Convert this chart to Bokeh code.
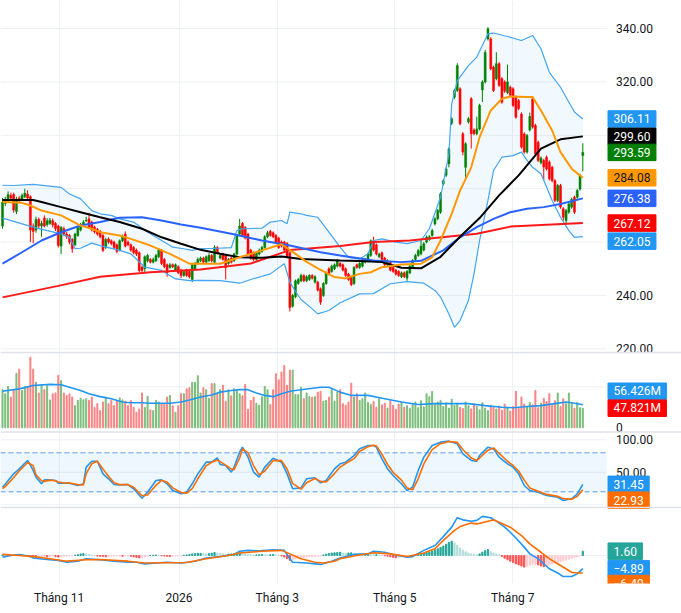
from bokeh.plotting import figure
from bokeh.models import Range1d, FixedTicker, ColumnDataSource
from bokeh.embed import file_html
from bokeh.resources import INLINE
from bokeh.core.properties import value

# ---------------- data (one entry per trading day) ----------------
opens = [266, 274.5, 275.5, 277.5, 277.8, 271.5, 276.5, 276, 277, 278,
         277, 266, 264.5, 268.5, 266, 269, 266.5, 267, 268, 267,
         266, 258.5, 265, 263, 262.5, 261, 259, 262.5, 264.5, 266.5,
         268, 268.7, 267.5, 265.6, 264.8, 264, 262.5, 258, 261.2, 260.5,
         260, 259, 257, 260.5, 263, 260, 259, 258, 257, 256,
         250.6, 250, 253, 253.5, 252.5, 253, 254.5, 257, 253.5, 251.5,
         250.5, 251.5, 249.5, 250.8, 249.5, 247.5, 249.5, 249, 246, 250,
         252, 253, 254, 252.5, 253, 255, 252.5, 258, 254, 255.5,
         255, 252, 254, 253, 255.5, 263, 267, 265.5, 263, 257,
         256, 253.5, 255.5, 256.5, 258, 262, 264, 263.5, 262.5, 261.5,
         260, 260, 259.5, 256, 236, 239.5, 244.5, 245.5, 247.5, 245.5,
         246, 247.5, 245, 245, 242.5, 240, 244.5, 250, 249, 250,
         251, 252, 251.5, 250, 248, 247, 244.5, 251.5, 250.5, 251,
         252.5, 253, 255, 260.5, 259, 254.5, 256, 254, 251.5, 252.5,
         250.5, 249.5, 249, 247, 248.5, 246.5, 248.5, 250.5, 253.5, 255,
         255.6, 257, 260, 261, 262.5, 266.8, 268.7, 271.2, 281.8, 285,
         289.3, 304.5, 314.3, 316.8, 317.4, 300.6, 288, 305, 313.7, 302,
         300.6, 302.4, 317, 320, 336.1, 336.1, 325.5, 321.2, 326.8, 321.2,
         320, 316, 318, 317.4, 314.3, 313, 308, 300.5, 293.7, 302,
         313.7, 303.7, 297.4, 289.7, 290.6, 291.8, 290, 288, 283, 275.6,
         281.2, 272.5, 268.1, 271.2, 273.1, 276.8, 276.8, 279.9, 292.4]
highs = [276.5, 277, 279, 278.5, 278.5, 277, 277.2, 278.2, 280, 279.4,
         277.5, 267, 269.5, 269.2, 268, 270, 269, 269, 268.8, 267.5,
         266.5, 266, 265.8, 263.8, 263, 261.5, 263.5, 266, 267.2, 268.2,
         269.5, 271, 268, 266.2, 265.3, 264.5, 263, 261.6, 261.8, 261,
         260.5, 259.5, 261, 262.8, 264, 260.6, 259.5, 258.5, 257.6, 256.5,
         251.2, 255, 255.6, 254, 254.2, 255.6, 257.6, 257.4, 254, 252,
         252.2, 252, 252, 251.3, 250, 249.6, 250, 249.5, 252, 252.6,
         254.2, 254.6, 254.5, 255, 255.8, 255.5, 258.8, 258.5, 255.6, 256,
         255.5, 254, 254.5, 256, 263, 268.7, 267.5, 266, 263.5, 257.5,
         256.5, 256.6, 257.6, 258.6, 262.6, 264.2, 264.6, 264, 263, 262,
         260.6, 260.5, 260, 256.5, 240.6, 246, 246.6, 248.2, 248, 247.6,
         248, 248, 247.6, 245.5, 243, 245, 249, 250.6, 251.6, 252,
         253.6, 252.5, 252, 250.5, 248.5, 247.5, 251, 252, 252.6, 253.6,
         254, 256, 261, 262, 259.5, 256, 256.5, 254.5, 253.6, 253,
         251, 250, 249.5, 249, 249, 249.5, 251.6, 253.6, 255.6, 257.4,
         261, 260, 262.5, 262.6, 265, 269.3, 272.4, 278.7, 283.6, 288,
         295.5, 306.8, 317.4, 327, 318, 301.2, 297.4, 306.8, 314.3, 302.6,
         307, 311.8, 320.6, 332, 340.5, 336.7, 326.1, 331.1, 327.4, 321.8,
         320.6, 326.5, 318.6, 318, 314.9, 313.6, 308.6, 301.1, 300.5, 308.5,
         314.5, 304.3, 298, 292.1, 291.2, 292.4, 290.6, 288.6, 283.6, 281.8,
         281.8, 273.1, 272.4, 274.9, 276.6, 277.4, 279.9, 285.6, 297]
lows = [265, 273.5, 275, 275.8, 271, 270.5, 274.8, 275.5, 276.5, 275.8,
        260, 259.5, 263.5, 265, 262, 265.5, 265.8, 266.5, 265.5, 264.2,
        258, 255.5, 262.2, 261.2, 259.2, 256, 258.5, 262, 264, 266,
        267.5, 265, 264, 263.2, 262.4, 261.4, 256.3, 257.4, 259.4, 258.8,
        257.4, 255.8, 256.5, 260, 258, 258.4, 256.4, 255.4, 254.8, 248.8,
        248.6, 248.8, 252.4, 252, 252, 252.5, 254, 251.4, 250.2, 247,
        250, 250.2, 249, 248, 246.5, 247, 247, 246.4, 245, 249.5,
        251.5, 252.5, 252, 252, 252.6, 252.4, 252, 255.4, 253.5, 253,
        246, 251.5, 252, 252.6, 255, 262.5, 262, 261, 255, 253.4,
        252.8, 253, 255, 256, 257.6, 261.5, 262, 261.5, 259.5, 257.5,
        258, 256.5, 254, 234, 235.5, 239, 244, 245, 245, 245,
        245.5, 246, 244.5, 241.5, 236.5, 239.5, 244, 247.5, 248.5, 249.5,
        250.5, 250.5, 249, 247, 245.5, 243.5, 244, 250, 250, 250.5,
        252, 252.5, 254.5, 256.5, 255, 254, 253, 251, 251, 249,
        248.5, 247.5, 247, 246.5, 246.5, 245.5, 248, 250, 253, 254.5,
        255, 256.5, 259.5, 260.5, 262, 266.2, 268.2, 270.6, 281.2, 284.4,
        288, 303.8, 313.7, 316.2, 303.7, 292.5, 283.7, 304.4, 295, 300,
        300, 301.8, 312.5, 319.4, 335.5, 324.3, 316.2, 320.6, 318.1, 311.8,
        315.9, 315.4, 314.4, 310.6, 306.2, 309.4, 295, 293.1, 293.1, 301.4,
        302.5, 292.5, 290, 289.1, 283, 286.8, 283.1, 282.4, 275, 275,
        272.5, 268, 266.5, 270.6, 272.5, 270.5, 276.2, 279.3, 286.5]
closes = [275, 276, 277.8, 276.5, 272, 276, 275.5, 277.5, 278.3, 276.5,
          264.5, 264, 268.5, 266, 267, 266, 268, 268.2, 266.5, 265,
          258.7, 265.5, 263, 262, 260, 257.5, 263, 265.5, 266.5, 267.5,
          268.3, 265.5, 264.5, 263.8, 263, 262, 256.9, 261, 260, 259.5,
          258, 256.5, 260.5, 262, 258.5, 259, 257, 256, 255.5, 249.4,
          249.4, 254.5, 255, 252.5, 253.5, 255, 257, 252, 250.8, 248.5,
          251.5, 250.8, 251.5, 248.5, 247.5, 249, 247.5, 247, 251.5, 252,
          253.5, 254, 252.5, 254.5, 255, 253, 258, 256, 255, 253.5,
          250.5, 253.5, 252.5, 255.5, 262.5, 266, 262.5, 261.5, 255.5, 254,
          253.5, 256, 257, 258, 262, 263.5, 262.5, 262, 260, 258,
          258.5, 257, 254.5, 235.5, 240, 245.5, 246, 247.5, 245.5, 247,
          247.5, 246.5, 247, 242, 237.5, 244.5, 248.5, 248, 251, 251.5,
          253, 251, 249.5, 247.5, 246, 244, 250.5, 250.5, 252, 253,
          253.5, 255.5, 260.5, 257, 255.5, 255.5, 253.5, 251.5, 253, 249.5,
          249, 248, 247.5, 248.5, 247, 249, 251, 253.1, 255, 256.8,
          258.5, 259.4, 261.9, 262, 264.3, 268.7, 271.8, 278.1, 283, 287.4,
          294.9, 306.2, 316.8, 326.1, 304.3, 293.7, 296.8, 306.2, 300.6, 300.6,
          302.4, 311.2, 320, 331, 339.9, 324.9, 316.8, 326.8, 318.7, 312.4,
          316.5, 320, 315, 311.2, 306.8, 310, 295.6, 293.7, 299.9, 307,
          303.1, 293.1, 290.6, 291.5, 288.1, 287.4, 283.7, 283, 275.6, 281.2,
          273.1, 269.3, 271.8, 274.3, 276, 271.2, 279.3, 285, 293.59]
volumes_m = [93, 83, 101, 75, 93, 133, 143, 91, 101, 101,
             172, 143, 111, 85, 106, 93, 103, 68, 83, 85,
             128, 115, 85, 79, 83, 75, 54, 67, 72, 68,
             71, 67, 75, 50, 59, 42, 63, 75, 59, 67,
             54, 65, 73, 68, 65, 54, 67, 50, 38, 46,
             85, 50, 77, 44, 42, 67, 63, 59, 59, 75,
             79, 54, 38, 54, 83, 83, 95, 98, 111, 111,
             127, 85, 98, 93, 72, 108, 108, 83, 93, 104,
             65, 93, 78, 95, 91, 83, 78, 106, 45, 67,
             75, 60, 55, 76, 101, 93, 57, 93, 132, 117,
             136, 152, 104, 141, 141, 81, 81,
             99, 71, 85, 76, 75, 76, 87, 89, 65, 67,
             75, 93, 65, 87, 93, 59, 55, 63, 109, 75,
             83, 67, 71, 85, 62, 57, 64, 50, 71, 56,
             60, 48, 66, 55, 45, 58, 62, 50, 54, 47,
             59, 63, 49, 66, 51, 83, 76, 89, 57, 63,
             67, 52, 61, 48, 70, 55, 60, 50, 47, 63,
             54, 46, 58, 52, 44, 61, 48, 42, 55, 50,
             46, 53, 43, 58, 49, 41, 52, 89, 48, 75,
             58, 51, 62, 56, 91, 49, 60, 72, 64, 83,
             55, 66, 85, 52, 71, 59, 85, 60, 48, 62, 49, 47.821]
macd_hist = [0.2, 0.1, 0, -0.1, 0, 0.1, 0.3, 0.3, 0.2, -0.1,
             -0.4, -0.6, -0.7, -0.6, -0.5, -0.4, -0.5, -0.4, -0.3, -0.4,
             -0.6, -0.5, -0.4, -0.3, -0.2, -0.1, 0.1, 0.3, 0.6, 0.7,
             0.6, 0.4, 0.2, 0, -0.2, -0.3, -0.4, -0.5, -0.4, -0.3,
             -0.3, -0.2, -0.2, -0.3, -0.3, -0.2, -0.3, -0.5, -0.7, -0.9,
             -0.8, -0.6, -0.3, 0, 0.1, 0.2, 0.1, -0.1, -0.2, -0.3,
             -0.4, -0.3, -0.2, -0.2, -0.1, 0.1, 0.2, 0.4, 0.6, 0.7,
             0.8, 0.8, 0.7, 0.6, 0.7, 0.8, 1.1, 0.9, 0.7, 0.6,
             0.4, 0.5, 0.6, 0.7, 0.9, 1.0, 0.8, 0.6, 0.4, 0.3,
             0.2, 0.2, 0.3, 0.4, 0.3, 0.2, 0.3, 0.4, 0.2, 0.1,
             -0.2, -0.6, -1.2, -1.8, -1.6, -1.3, -1.1, -0.9, -0.7, -0.6,
             -0.5, -0.5, -0.4, -0.3, -0.2, 0.2, 0.5, 0.7, 0.9, 1.0,
             1.1, 1.2, 0.9, 0.8, 0.9, 1.0, 0.8, 0.6, 0.5, 0.4,
             0.5, 0.6, 0.4, 0.3, 0.3, 0.2, 0.1, -0.1, -0.3, -0.5,
             -0.7, -0.8, -0.6, -0.5, -0.4, -0.3, -0.2, 0, 0.3, 0.5,
             0.6, 0.8, 1.0, 1.3, 1.7, 2.1, 2.5, 3.0, 3.5, 4.2,
             4.8, 5.3, 4.6, 3.8, 2.8, 2.0, 1.4, 0.9, 0.6, 0.4,
             0.3, 0.6, 1.2, 1.8, 2.2, 1.4, 0.9, 0.5, 0.2, -0.4,
             -1.0, -1.6, -2.1, -2.6, -3.1, -3.5, -3.9, -4.3, -4.0, -3.7,
             -3.4, -3.2, -3.5, -3.9, -4.2, -3.9, -3.6, -3.2, -2.9, -2.6,
             -2.3, -2.0, -1.7, -1.4, -1.1, -0.8, -0.5, -0.2, 1.6]

# indicator lines read at selected bars (bar index, value)
bb_mid_idx = [0, 7, 10, 14, 21, 28, 32, 35, 42, 46, 53, 60, 67, 71, 78, 85, 93, 100, 105, 109, 113, 119, 123, 128,
              132, 136, 143, 150, 154, 157, 161, 164, 168, 171, 175, 179, 182, 188, 190, 193, 197, 200, 204, 208]
bb_mid_val = [275, 274.7, 273.7, 271.8, 270, 266.2, 265, 263.7, 262.5, 261.2, 258.7, 255.6, 251.9, 251.9, 251.9,
              254.3, 256.9, 259.2, 255.6, 252.6, 250.2, 246.9, 246.4, 248.1, 248.7, 250.6, 251.6, 251.9, 254.3,
              260.6, 270.6, 279.3, 288, 299.3, 309.3, 313.7, 314.5, 314.3, 314.3, 309.3, 301.8, 293.7, 287.5, 284.08]
bb_up_idx = [0, 4, 11, 21, 24, 28, 32, 35, 39, 42, 47, 51, 54, 58, 61, 65, 68, 71, 75, 82, 84, 86, 93, 96, 100, 102,
             103, 107, 109, 113, 117, 121, 124, 128, 131, 133, 136, 141, 145, 150, 153, 157, 160, 161, 163, 167, 170,
             174, 176, 181, 186, 190, 193, 196, 200, 205, 208]
bb_up_val = [281.3, 281.2, 281.6, 280.5, 278, 276.2, 271.8, 270.6, 270, 268.7, 267.5, 264.4, 262.5, 260, 258.1,
             257.5, 256.9, 257.6, 257.6, 257.9, 264.3, 265, 265.2, 267.5, 268.1, 266.9, 271.2, 270.6, 270, 269.3,
             263.7, 258.1, 254.3, 253.7, 255.6, 260.6, 261.2, 260, 259.4, 260.6, 265, 276.8, 293, 311.8, 320.5,
             326.1, 329.3, 338, 338.3, 337, 335.5, 337.4, 332.4, 323.6, 318, 308.7, 306.11]
bb_lo_idx = [0, 11, 16, 21, 24, 26, 28, 32, 35, 42, 46, 51, 57, 62, 67, 71, 78, 85, 89, 96, 101, 103, 105, 107, 111,
             113, 117, 121, 128, 133, 139, 145, 151, 155, 157, 160, 162, 164, 167, 169, 171, 174, 176, 179, 183,
             186, 188, 190, 193, 195, 197, 200, 203, 205, 208]
bb_lo_val = [269, 265.6, 264.3, 263.1, 261.8, 257.5, 257.7, 259.6, 258.7, 256.9, 255.6, 250.6, 249.4, 246.2, 245.6,
             245.7, 245.6, 244.6, 246, 248.1, 251.9, 245, 241.5, 238.5, 235, 233.1, 234.4, 237.3, 240.6, 240.7,
             244.4, 245.2, 244.6, 241.9, 239.4, 233.1, 228.1, 230.6, 238.1, 248.1, 260.6, 275.6, 286.8, 291.8,
             292.4, 293.7, 290.6, 288, 285.6, 280.6, 275.6, 269.3, 264.3, 261.8, 262.05]
ma50_idx = [0, 11, 14, 21, 28, 35, 42, 50, 57, 64, 71, 78, 85, 93, 100, 107, 114, 121, 128, 136, 143, 150, 157, 164,
            171, 178, 185, 193, 200, 208]
ma50_val = [275.8, 275.8, 275, 273.1, 271.2, 269.3, 267.5, 265, 261.8, 259.4, 257.1, 255.6, 254.3, 254.1, 254.6,
            253.7, 253.4, 253.1, 252.9, 252.5, 250.4, 250.2, 254.5, 262, 269, 277.5, 285, 295, 298.5, 299.6]
ma100_idx = [0, 7, 14, 21, 28, 35, 42, 50, 57, 64, 71, 82, 93, 103, 114, 121, 133, 143, 150, 158, 164, 170, 176,
             182, 188, 194, 200, 208]
ma100_val = [251.9, 256.2, 260.6, 263.7, 266.2, 267.5, 269.1, 269.3, 268.1, 266.6, 265.4, 263.1, 260.6, 258.7,
             256.2, 255, 253.1, 252.5, 253, 256.9, 261.8, 265.6, 268.7, 271.2, 272.5, 273.1, 274.3, 276.38]
ma200_idx = [0, 20, 35, 53, 71, 89, 103, 121, 133, 146, 170, 182, 208]
ma200_val = [239.3, 243.6, 247, 248.7, 249.7, 252, 257, 258.5, 260, 260.6, 263.1, 265.8, 267.12]
vol_ma_idx = [0, 6, 11, 17, 21, 24, 28, 31, 35, 39, 43, 46, 50, 53, 57, 60, 64, 67, 71, 75, 78, 82, 85, 88, 91, 94,
              97, 100, 103, 107, 114, 117, 121, 125, 131, 137, 143, 149, 155, 161, 167, 173, 179, 183, 188, 193,
              198, 202, 205, 208]
vol_ma_val = [89, 95, 103, 106, 105, 99, 91, 83, 76, 71, 63, 61, 61, 60, 60, 60, 63, 68, 75, 80, 87, 91, 93, 93, 85,
              79, 76, 83, 89, 93, 99, 99, 87, 79, 79, 71, 63, 57, 59, 59, 59, 54, 50, 49, 52, 54, 59, 63, 60, 56.426]
stoch_idx = [0, 1, 4, 6, 9, 11, 12, 14, 15, 17, 19, 20, 22, 24, 27, 29, 30, 32, 34, 36, 38, 40, 42, 45, 47, 50, 52,
             55, 57, 59, 61, 64, 66, 68, 70, 73, 75, 77, 78, 80, 82, 83, 85, 86, 88, 90, 92, 94, 97, 100, 102, 104,
             107, 109, 112, 114, 116, 119, 121, 123, 126, 128, 131, 133, 134, 136, 138, 140, 143, 145, 147, 149,
             151, 154, 157, 160, 163, 165, 168, 170, 171, 174, 176, 178, 181, 183, 185, 187, 189, 192, 195, 199,
             201, 204, 206, 208]
stoch_k = [27, 32, 47.6, 55.3, 68.2, 52.8, 42.5, 32.3, 38.4, 38.4, 37.4, 33.3, 33.3, 33.3, 29.7, 32.3, 57.9, 67.1,
           67.1, 47.6, 40, 31.2, 30.7, 31.2, 24.6, 10.2, 19.4, 37.4, 38.4, 32.3, 22, 16.9, 19.4, 32.3, 47.6, 65.6,
           65.6, 72.3, 62, 60.5, 50.2, 57.9, 81, 88.7, 73.3, 50.2, 42.5, 57.9, 71.7, 65.6, 47.6, 24.6, 26, 40,
           41.5, 33.8, 37.4, 55.3, 63, 65.6, 75.8, 86.1, 91.2, 91.2, 88.7, 70.7, 55.3, 45, 32.3, 22, 27, 52.8,
           73.3, 91.2, 96.4, 97.9, 93.8, 78.4, 68.2, 67.1, 75.8, 88.7, 86, 73.3, 63, 57.9, 47.6, 29.7, 22, 19.4,
           14.3, 11.7, 6.6, 9.2, 16.9, 31.45]
stoch_d = [25, 28, 42, 52, 65, 60, 46, 37, 36, 38, 37, 35, 33.5, 33.5, 31, 30.5, 48, 63, 67, 55, 44, 34, 31, 31,
           27, 14, 15, 30, 37.5, 35, 26, 19, 18, 25, 40, 60, 65.5, 69, 66.5, 61, 55, 54, 72, 86, 80, 60, 46, 52,
           68, 68, 55, 33, 24, 34, 40.5, 36, 35, 48, 58, 63.5, 71, 82, 89.5, 91.5, 90.5, 78, 62, 50, 38, 26, 23,
           40, 63, 85, 94, 97.5, 96, 85, 72, 68, 72, 84, 87.5, 79, 67, 60.5, 52, 38, 26, 21, 16, 13, 9.5, 8.5, 13,
           22.93]
macd_idx = [0, 3, 6, 10, 11, 15, 20, 23, 27, 30, 35, 40, 45, 48, 51, 55, 59, 64, 69, 73, 78, 83, 85, 88, 92, 97,
            101, 103, 104, 109, 114, 118, 121, 126, 131, 133, 137, 140, 145, 147, 151, 155, 158, 161, 163, 165, 168,
            170, 172, 175, 177, 180, 182, 184, 187, 189, 192, 194, 196, 199, 201, 204, 206, 208]
macd_val = [-0.6, 0, 0.4, -0.4, -0.9, -1.4, -1.8, -2.5, -2.1, -1.2, -1.6, -2.1, -2.5, -2.5, -3.1, -2.8, -2.5, -2.8,
            -2.1, -0.9, -0.4, 0.4, 1.6, 1.9, 1.7, 2.1, 1.9, -1.2, -2.5, -2.8, -3.3, -2.1, -0.9, 0.4, 0.6, 1.6, 1.2,
            0.4, -0.6, -0.4, 1.9, 3.7, 7, 10.5, 14, 13.2, 12.7, 13, 14.5, 14, 12.7, 10.5, 8.6, 6.5, 3.1, 0.6, -1.2,
            -3.1, -4.9, -6.5, -7.8, -7.8, -6.8, -4.89]
signal_idx = [0, 6, 11, 17, 23, 30, 35, 45, 51, 59, 66, 73, 81, 85, 93, 100, 103, 107, 112, 115, 119, 121, 127,
              133, 139, 145, 151, 155, 158, 162, 164, 168, 170, 174, 176, 178, 182, 186, 189, 193, 196, 200, 204,
              206, 208]
signal_val = [0.4, 0, -0.4, -1.2, -2.1, -1.6, -1.5, -2.1, -2.8, -2.7, -2.6, -1.2, 0, 0.9, 1.6, 1.9, 0.6, -1.2,
              -2.5, -2.8, -2.1, -1.2, 0, 1, 0.6, -0.4, 0.9, 2.5, 5.6, 9.3, 10.7, 12, 11.7, 12.7, 13.2, 12.3, 10.5,
              7.4, 4.3, 1.2, -1.2, -3.7, -6.2, -6.5, -6.49]

month_ticks = [20.3, 63.3, 98.5, 140.6, 182.9]
month_labels = ["Tháng 11", "2026", "Tháng 3", "Tháng 5", "Tháng 7"]
price_grid = [220, 240, 260, 280, 300, 320, 340]
price_ticks = [340, 320, 240, 220]
stoch_ticks = [100, 50]
stoch_grid = [100, 50, 0]
stoch_levels = [20, 80]
vol_grid = [100]
macd_grid = [0]

n = len(closes)
for arr in (opens, highs, lows, volumes_m, macd_hist):
    assert len(arr) == n, len(arr)

# ---------------- layout ----------------
FW, FH = 681, 583          # frame size in px (frame covers the whole canvas width)
BAR_PX = 2.79              # px per trading day
PLOT_RIGHT = 606           # right edge of the drawing area (price scale to the right)
x_start = -2 / BAR_PX
x_end = x_start + FW / BAR_PX


def pane_range(v_a, y_a, v_b, y_b):
    ppu = (y_b - y_a) / (v_a - v_b)
    return Range1d(v_a - (FH - y_a) / ppu, v_a + y_a / ppu)


price_rng = pane_range(340, 28, 240, 295)
vol_rng = pane_range(100, 386.3, 0, 427.3)
stoch_rng = pane_range(80, 452.3, 20, 491.3)
macd_rng = pane_range(5, 541.5, 0, 555)

p = figure(frame_width=FW, frame_height=FH, x_range=Range1d(x_start, x_end), y_range=price_rng,
           toolbar_location=None, output_backend="svg", y_axis_location=None,
           min_border_left=0, min_border_right=0, min_border_top=0, min_border_bottom=22,
           outline_line_color=None, background_fill_color="white", border_fill_color="white")
p.title.visible = False
p.extra_y_ranges = {"vol": vol_rng, "stoch": stoch_rng, "macd": macd_rng, "py": Range1d(FH, 0)}
p.extra_x_ranges = {"px": Range1d(0, FW)}

for g in p.ygrid:
    g.visible = False
p.xgrid.ticker = FixedTicker(ticks=month_ticks)
p.xgrid.grid_line_color = "#edf0f4"

ax = p.xaxis[0]
ax.ticker = FixedTicker(ticks=month_ticks)
ax.major_label_overrides = dict(zip(month_ticks, month_labels))
ax.axis_line_color = None
ax.major_tick_line_color = None
ax.minor_tick_line_color = None
ax.major_tick_out = 0
ax.major_tick_in = 0
ax.minor_tick_out = 0
ax.major_label_standoff = 7
ax.major_label_text_font = "Roboto"
ax.major_label_text_font_size = "12px"
ax.major_label_text_color = "#131722"

GRID = "#edf0f4"
SEP = "#dfe2e8"
FONT = value("Roboto")

# horizontal grid lines of each pane
p.segment(x0=0, x1=PLOT_RIGHT, y0=price_grid, y1=price_grid, x_range_name="px", line_color=GRID, line_width=1)
p.segment(x0=0, x1=PLOT_RIGHT, y0=vol_grid, y1=vol_grid, x_range_name="px", y_range_name="vol",
          line_color=GRID, line_width=1)
p.segment(x0=0, x1=PLOT_RIGHT, y0=stoch_grid, y1=stoch_grid, x_range_name="px", y_range_name="stoch",
          line_color=GRID, line_width=1)
p.segment(x0=0, x1=PLOT_RIGHT, y0=macd_grid, y1=macd_grid, x_range_name="px", y_range_name="macd",
          line_color=GRID, line_width=1)

# ---------------- price pane ----------------
idx = list(range(n))
up = [c >= o for o, c in zip(opens, closes)]
src = ColumnDataSource(dict(
    i=idx, o=opens, h=highs, l=lows, c=closes,
    top=[max(o, c) for o, c in zip(opens, closes)],
    bottom=[min(o, c) for o, c in zip(opens, closes)],
    color=["#008000" if u else "#ff0000" for u in up],
    vol=volumes_m,
    vcolor=["#7cbd7c" if u else "#f98484" for u in up],
))

band_x = bb_up_idx + bb_lo_idx[::-1]
band_y = bb_up_val + bb_lo_val[::-1]
p.patch(band_x, band_y, fill_color="#2196f3", fill_alpha=0.06, line_color=None)

p.segment(x0="i", y0="l", x1="i", y1="h", color="color", line_width=1, source=src)
p.vbar(x="i", width=0.72, top="top", bottom="bottom", fill_color="color", line_color="color",
       line_width=0.5, source=src)

p.line(bb_up_idx, bb_up_val, line_color="#42a5f5", line_width=1.2)
p.line(bb_lo_idx, bb_lo_val, line_color="#42a5f5", line_width=1.2)
p.line(ma200_idx, ma200_val, line_color="#ff1a1a", line_width=2)
p.line(ma100_idx, ma100_val, line_color="#2962ff", line_width=2)
p.line(ma50_idx, ma50_val, line_color="#000000", line_width=2)
p.line(bb_mid_idx, bb_mid_val, line_color="#ff9800", line_width=2)

# ---------------- volume pane ----------------
p.vbar(x="i", width=0.36, top="vol", bottom=0, color="vcolor", y_range_name="vol", source=src)
p.line(vol_ma_idx, vol_ma_val, line_color="#2196f3", line_width=1.6, y_range_name="vol")

# ---------------- stochastic pane ----------------
p.quad(left=0, right=PLOT_RIGHT, bottom=stoch_levels[0], top=stoch_levels[1], x_range_name="px",
       y_range_name="stoch", fill_color="#2196f3", fill_alpha=0.08, line_color=None)
p.segment(x0=0, x1=PLOT_RIGHT, y0=stoch_levels, y1=stoch_levels, x_range_name="px", y_range_name="stoch",
          line_color="#5b9cf0", line_width=1, line_dash="5 3")
p.line(stoch_idx, stoch_k, line_color="#2196f3", line_width=1.6, y_range_name="stoch")
p.line(stoch_idx, stoch_d, line_color="#ff6d00", line_width=1.6, y_range_name="stoch")

# ---------------- MACD pane ----------------
hcolors = []
for k, h in enumerate(macd_hist):
    prev = macd_hist[k - 1] if k else 0
    if h >= 0:
        hcolors.append("#26a69a" if h >= prev else "#b2dfdb")
    else:
        hcolors.append("#ff5252" if h < prev else "#ffcdd2")
p.vbar(x=idx, width=0.45, top=macd_hist, bottom=0, color=hcolors, y_range_name="macd")
p.line(macd_idx, macd_val, line_color="#2196f3", line_width=1.6, y_range_name="macd")
p.line(signal_idx, signal_val, line_color="#ff6d00", line_width=1.6, y_range_name="macd")

# ---------------- right-hand scale texts ----------------
TX = 615.5
p.text(x=TX, y=price_ticks, text=[f"{t:.2f}" for t in price_ticks], x_range_name="px",
       text_font=FONT, text_font_size="12px", text_color="#131722", text_baseline="middle", text_align="left")
p.text(x=TX, y=stoch_ticks, text=[f"{t:.2f}" for t in stoch_ticks], x_range_name="px", y_range_name="stoch",
       text_font=FONT, text_font_size="12px", text_color="#131722", text_baseline="middle", text_align="left")
p.text(x=TX, y=[0], text=["0"], x_range_name="px", y_range_name="vol",
       text_font=FONT, text_font_size="12px", text_color="#131722", text_baseline="middle", text_align="left")


def fmt(v, suffix=""):
    return f"{v:.2f}".replace("-", "\u2212") + suffix


CHAR_W = {".": 3.2, "M": 10.5, "\u2212": 7.0}


def add_tags(tags, rng, name):
    upp = (rng.end - rng.start) / FH
    ys = [v - off * upp for v, _, _, _, off in tags]
    texts = [t for _, t, _, _, _ in tags]
    ws = [sum(CHAR_W.get(ch, 6.75) for ch in t) + 11 for t in texts]
    p.rect(x=[607.5 + w / 2 for w in ws], y=ys, width=ws, height=16.5, width_units="screen",
           height_units="screen", fill_color=[b for _, _, b, _, _ in tags],
           line_color=[b for _, _, b, _, _ in tags], x_range_name="px", y_range_name=name)
    p.text(x=613, y=ys, text=texts, text_color=[f for _, _, _, f, _ in tags], x_range_name="px",
           y_range_name=name, text_font=FONT, text_font_size="12px", text_baseline="middle", text_align="left")


W = "#ffffff"
add_tags([
    (bb_up_val[-1], fmt(bb_up_val[-1]), "#2196f3", W, 0),
    (ma50_val[-1], fmt(ma50_val[-1]), "#000000", W, 0),
    (closes[-1], fmt(closes[-1]), "#008000", W, 0),
    (bb_mid_val[-1], fmt(bb_mid_val[-1]), "#ff9800", "#131722", 0),
    (ma100_val[-1], fmt(ma100_val[-1]), "#2962ff", W, 0),
    (ma200_val[-1], fmt(ma200_val[-1]), "#ff0000", W, 0),
    (bb_lo_val[-1], fmt(bb_lo_val[-1]), "#2196f3", W, 4.5),
], price_rng, "default")
add_tags([
    (vol_ma_val[-1], f"{vol_ma_val[-1]:.3f}M", "#2196f3", W, -13.4),
    (volumes_m[-1], f"{volumes_m[-1]:.3f}M", "#ff0000", W, 0),
], vol_rng, "vol")
add_tags([
    (stoch_k[-1], fmt(stoch_k[-1]), "#2196f3", W, 0),
    (stoch_d[-1], fmt(stoch_d[-1]), "#ff6d00", W, 10.3),
], stoch_rng, "stoch")
add_tags([
    (macd_hist[-1], fmt(macd_hist[-1]), "#26a69a", W, 0),
    (macd_val[-1], fmt(macd_val[-1]), "#2196f3", W, 0),
    (signal_val[-1], fmt(signal_val[-1]), "#ff6d00", W, 10.5),
], macd_rng, "macd")

# pane separators
seps = [352, 431.5, 507]
p.segment(x0=0, x1=FW, y0=seps, y1=seps, x_range_name="px", y_range_name="py", line_color=SEP, line_width=1.5)

open("out.html", "w").write(file_html(p, INLINE))
